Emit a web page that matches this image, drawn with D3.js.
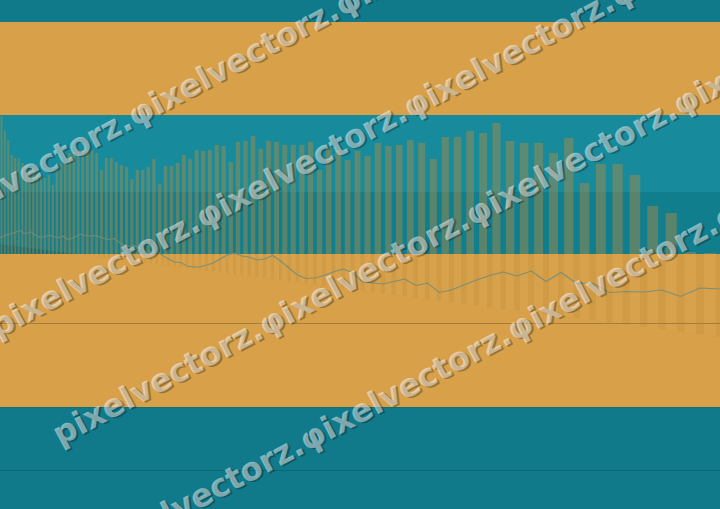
<!DOCTYPE html>
<html><head><meta charset="utf-8">
<script src="https://cdn.jsdelivr.net/npm/d3@7"></script>
<style>html,body{margin:0;padding:0;background:#107a8a;}svg{display:block;}</style>
</head><body><svg id="c" width="720" height="509"></svg>
<script>
// ---- data ----
const barValues = [138,123,114,99,96,96,91,89,84,86,82,79,76,79,69,84,91,91,101,102,102,104,104,104,101,84,96,96,92,89,87,75,84,84,87,95,70,88,88,91,99,95,104,103,104,109,108,92,112,113,118,105,113,112,109,109,109,112,84,106,104,94,103,98,111,108,109,114,111,95,117,117,123,121,131,113,111,111,101,116,71,90,90,79,48,41,2,1];
const lineValues = [16,17.5,19,20,21,22.5,23.5,20.5,21,22,19,17,17,18,18.5,17,16.5,18,14.5,15.5,17.5,20,18.5,18,18.5,17.5,15.5,14.5,15.5,12,9,7.5,8.5,6,3,2,2,-1.5,-5,-8,-8.5,-12,-13,-13,-11,-9,-5,-1,1,-2,-3,-6,-5,-1.5,-7,-14,-21,-24.5,-24,-21.5,-18,-15,-18.5,-28,-29,-30,-27.5,-25,-31.5,-29,-38.5,-36,-31,-26,-21.5,-18,-22,-17,-27.5,-18.5,-29.5,-29,-38.5,-37.5,-38,-36,-42.5,-34,-35];
const refValue = -69;          // horizontal guide line in the lower band
const wmWord = "pixelvectorz.φixelvectorz.φixelvectorz.φixelvectorz.φixelvectorz.";
const wmRows = [199, 337, 478, 615];
const wmShift = [-80, -3, 68, -120];

// ---- layout ----
const W = 720, H = 509;
const svg = d3.select("#c");
const C = 146.8; // perspective vanishing depth
const depth = d3.scalePow().exponent(-1).domain([C, C - 87]).range([1.5, 709.8]);
const px = i => depth(C - i);
const y = d3.scaleLinear().domain([0, 140]).range([254, 114]);

// bands
const bands = [
  {y0: 0, y1: 22, c: "#107a8a"},
  {y0: 22, y1: 115, c: "#d7a049"},
  {y0: 115, y1: 192, c: "#178b9b"},
  {y0: 192, y1: 254, c: "#117e8e"},
  {y0: 254, y1: 407, c: "#d7a049"},
  {y0: 407, y1: 509, c: "#107a8a"}
];
svg.selectAll("rect.band").data(bands).join("rect").attr("class","band")
  .attr("x",0).attr("width",W).attr("y",d=>d.y0).attr("height",d=>d.y1-d.y0).attr("fill",d=>d.c);
svg.append("line").attr("x1",0).attr("x2",W).attr("y1",470.5).attr("y2",470.5).attr("stroke","#0c6571").attr("stroke-width",1);
svg.append("line").attr("x1",0).attr("x2",W).attr("y1",407.5).attr("y2",407.5).attr("stroke","#0f6f7d").attr("stroke-width",1);

// floor shadow line
const floor = d3.scaleLinear().domain([0, W]).range([244, 337]);
const xCross = floor.invert(254);
svg.append("path").attr("d", `M0,${floor(0)}L${xCross},254L0,254Z`).attr("fill","#000").attr("opacity",0.12);
svg.append("path").attr("d", `M${xCross},254L${W},254L${W},${floor(W)}Z`).attr("fill","#8a5a10").attr("opacity",0.07);

const defs = svg.append("defs");
defs.append("clipPath").attr("id","refl").append("path")
  .attr("d", `M${xCross},254L${W},254L${W},${floor(W)}Z`);

// reflections
svg.append("g").attr("clip-path","url(#refl)")
  .selectAll("rect").data(barValues).join("rect")
  .attr("x",(d,i)=>px(i-0.3)).attr("width",(d,i)=>px(i+0.3)-px(i-0.3))
  .attr("y",254).attr("height",90)
  .attr("fill","#e8b45c").attr("opacity",0.3);

// guide line
svg.append("line").attr("x1",0).attr("x2",W).attr("y1",Math.round(y(refValue))+0.5).attr("y2",Math.round(y(refValue))+0.5)
  .attr("stroke","#9a7a3e").attr("stroke-width",1).attr("opacity",0.85);

// bars
svg.append("g").selectAll("rect").data(barValues).join("rect")
  .attr("x",(d,i)=>px(i-0.3)).attr("width",(d,i)=>px(i+0.3)-px(i-0.3))
  .attr("y",d=>y(d)).attr("height",d=>y(0)-y(d))
  .attr("fill","#b38940").attr("opacity",0.45);

// line
const line = d3.line().x((d,i)=>px(i-0.5)).y(d=>y(d));
svg.append("path").datum(lineValues).attr("d",line).attr("fill","none")
  .attr("stroke","#6f8e7c").attr("stroke-width",1.1).attr("opacity",0.9);

// watermark
const wm = svg.append("g").attr("font-family","DejaVu Sans").attr("font-weight","bold").attr("font-size",32);
wmRows.forEach((r,k)=>{
  const g = wm.append("g").attr("transform",`translate(0,${r}) rotate(-28)`);
  g.append("text").attr("x",wmShift[k] + 1.5).attr("y",2).text(wmWord).attr("fill","#000").attr("opacity",0.28);
  g.append("text").attr("x",wmShift[k]).attr("y",0).text(wmWord).attr("fill","#fff").attr("opacity",0.47);
});
</script></body></html>
